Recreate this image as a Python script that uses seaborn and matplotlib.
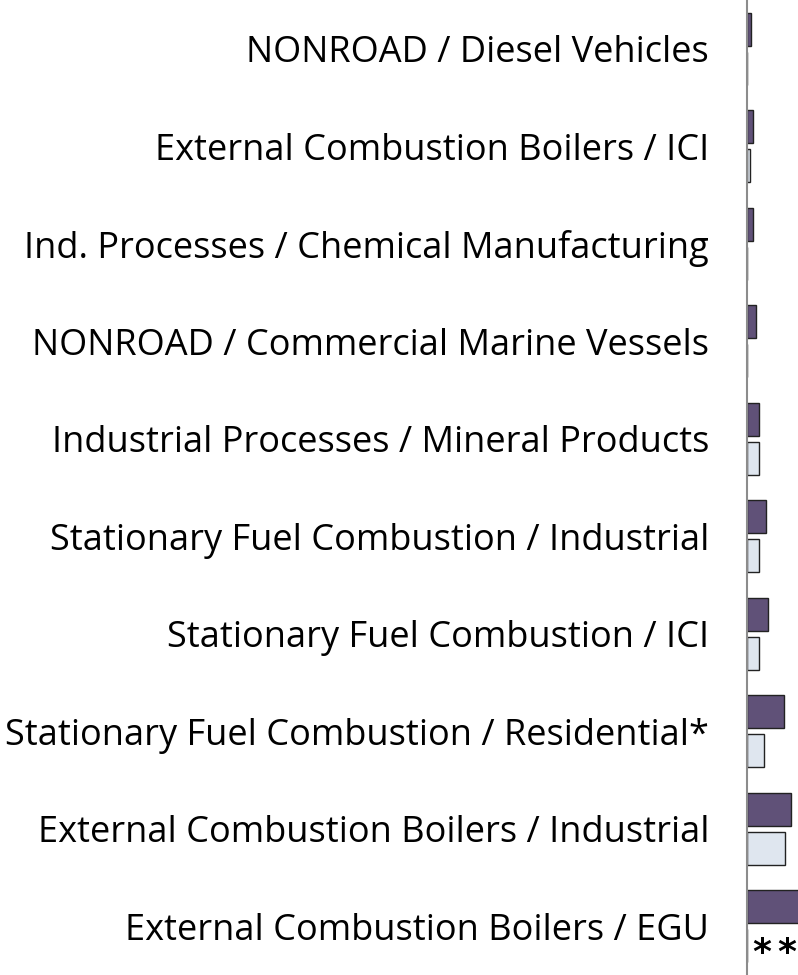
import matplotlib
matplotlib.use("Agg")
import matplotlib.pyplot as plt
import seaborn as sns
import pandas as pd

# categories, top to bottom
categories = [
    "NONROAD / Diesel Vehicles",
    "External Combustion Boilers / ICI",
    "Ind. Processes / Chemical Manufacturing",
    "NONROAD / Commercial Marine Vessels",
    "Industrial Processes / Mineral Products",
    "Stationary Fuel Combustion / Industrial",
    "Stationary Fuel Combustion / ICI",
    "Stationary Fuel Combustion / Residential*",
    "External Combustion Boilers / Industrial",
    "External Combustion Boilers / EGU",
]
series = ["Series 1", "Series 2"]
dark_vals = [4.5, 6.0, 6.5, 9.0, 12.0, 19.0, 21.0, 37.0, 44.0, 120.0]
light_vals = [0.6, 3.5, 0.6, 0.6, 12.0, 12.0, 12.0, 17.0, 38.0, 0.0]

df = pd.DataFrame({
    "Category": categories * 2,
    "Series": [series[0]] * len(categories) + [series[1]] * len(categories),
    "Value": dark_vals + light_vals,
})

sns.set_theme(style="white")
plt.rcParams["font.family"] = ["Open Sans", "DejaVu Sans"]

fig = plt.figure(figsize=(7.98, 9.75), dpi=100)
ax = fig.add_axes([746.5 / 798, 0, 60 / 798, 1])

sns.barplot(data=df, y="Category", x="Value", hue="Series", order=categories,
            hue_order=series, palette=["#5e4a7e", "#dce6f2"], orient="h",
            width=0.8, gap=0.15, edgecolor="#222222", linewidth=1.0,
            legend=False, ax=ax)

ax.set_xlim(0, 60)
ax.set_ylim(len(categories) - 0.5, -0.5)
ax.set_xlabel("")
ax.set_ylabel("")
ax.set_xticks([])
ax.tick_params(axis="y", length=0, pad=27, labelsize=26, labelcolor="black")
for s in ["top", "right", "bottom"]:
    ax.spines[s].set_visible(False)
ax.spines["left"].set_color("#8c8c8c")
ax.spines["left"].set_linewidth(1.5)

# no bar for the EGU light series, marked instead
for xa in [15, 40]:
    ax.text(xa, 9.38, "*", ha="center", va="baseline", fontsize=26,
            fontweight="bold", family="DejaVu Sans", color="black")

fig.savefig("out.png", dpi=100)
